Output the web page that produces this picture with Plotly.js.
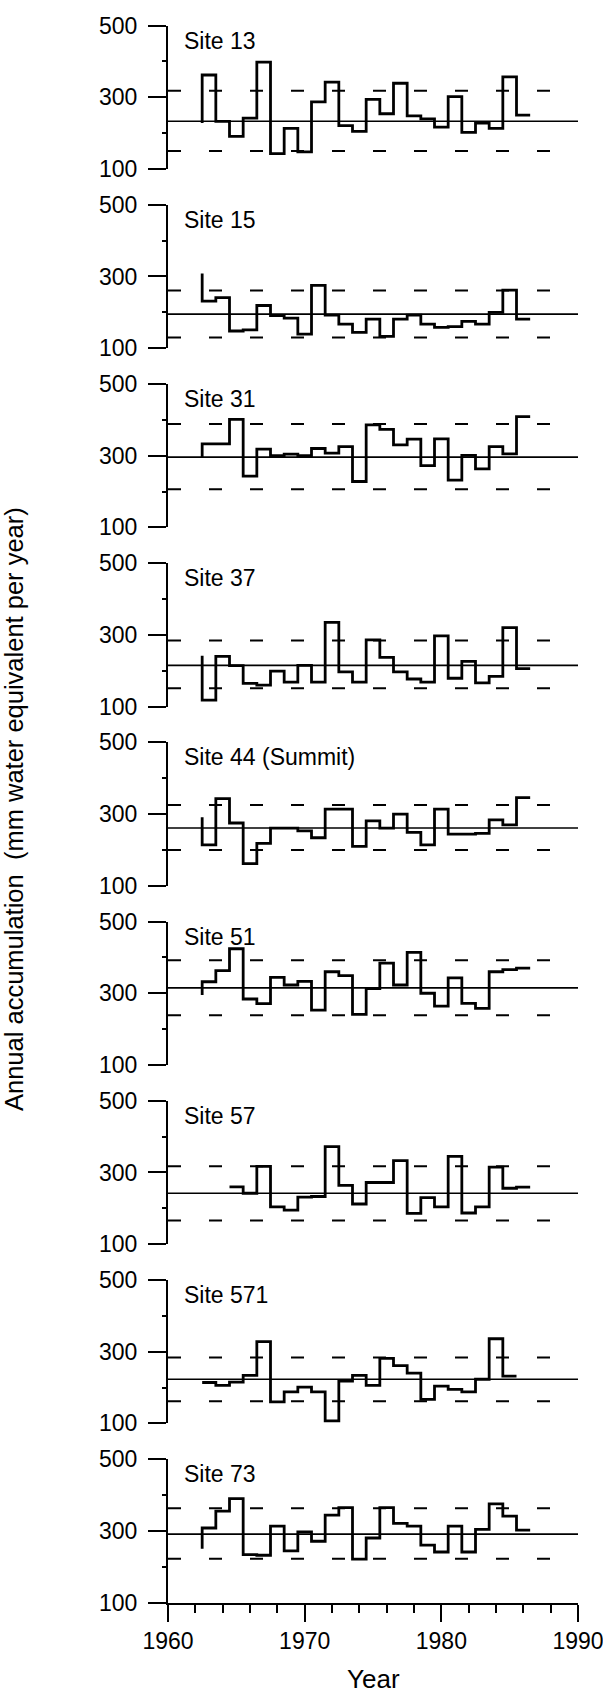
<!DOCTYPE html>
<html><head><meta charset="utf-8">
<script src="https://cdn.plot.ly/plotly-3.0.1.min.js"></script>
<style>html,body{margin:0;padding:0;background:#fff}</style>
</head><body><div id="chart" style="width:603px;height:1698px"></div>
<script>
// ---- data ----
const years = [1963,1964,1965,1966,1967,1968,1969,1970,1971,1972,1973,1974,1975,1976,1977,1978,1979,1980,1981,1982,1983,1984,1985,1986];
const siteNames = ["Site 13","Site 15","Site 31","Site 37","Site 44 (Summit)","Site 51","Site 57","Site 571","Site 73"];
const site13  = [362,233,191,242,398,143,213,148,287,342,221,205,294,254,339,248,240,217,302,202,228,213,357,250];
const site15  = [231,241,148,151,219,191,184,139,275,192,167,144,181,133,181,192,167,158,160,175,167,200,262,181];
const site31  = [333,333,401,243,318,300,304,300,320,307,325,228,386,373,330,346,272,347,232,301,263,325,305,409];
const site37  = [118,240,214,165,160,199,168,215,168,335,197,168,286,237,197,177,168,297,179,226,166,184,320,206];
const site44  = [214,343,275,162,218,261,261,253,234,314,314,210,281,261,300,249,214,314,244,244,246,284,270,346];
const site51  = [332,363,424,284,271,344,323,333,253,360,349,241,313,384,323,414,300,264,343,272,258,360,366,370];
const site57  = [null,null,260,242,317,204,195,231,233,372,264,212,272,272,333,186,230,204,345,187,204,315,256,259];
const site571 = [214,206,215,234,328,160,188,201,188,107,218,234,206,281,261,240,167,204,195,188,223,336,232,null];
const site73  = [308,355,390,234,232,313,244,297,271,344,365,221,280,365,321,313,260,241,313,241,304,375,341,302];
const startValues = [228,308,296,242,291,295,260,214,250];
const meanValues  = [233,195,296,215,261,315,242,223,291];
const upperValues = [318,261,388,284,325,392,317,284,363];
const lowerValues = [150,130,206,151,200,239,166,162,222];
const xTickValues = [1960,1970,1980,1990];
const yTickValues = [100,300,500];
const yTickText = ["100","300","500"];
const xRange = [1960,1990];
const yRange = [100,500];

const series = [site13,site15,site31,site37,site44,site51,site57,site571,site73];

// ---- layout geometry (pixels) ----
const W = 603, H = 1698, L = 168, R = 25;
const firstTop = 25.5, pitch = 179.2, panelH = 143.5;
const FONT = '"Liberation Sans", Arial, Helvetica, sans-serif';

function stepXY(vals, start) {
  const xs = [], ys = [];
  const first = vals.findIndex(v => v !== null);
  xs.push(years[first] - 0.5); ys.push(start);
  for (let i = first; i < vals.length; i++) {
    if (vals[i] === null) break;
    xs.push(years[i] + 0.5); ys.push(vals[i]);
  }
  return {xs, ys};
}

const traces = [];
const layout = {
  width: W, height: H,
  margin: {l: L, r: R, t: 0, b: 0, pad: 0},
  paper_bgcolor: '#fff', plot_bgcolor: 'rgba(0,0,0,0)',
  showlegend: false,
  font: {family: FONT, color: '#000', size: 23},
  annotations: []
};

series.forEach((vals, i) => {
  const k = i + 1;
  const xa = k === 1 ? 'x' : 'x' + k;
  const ya = k === 1 ? 'y' : 'y' + k;
  const isLast = i === series.length - 1;
  const top = firstTop + i * pitch;
  const dom = [1 - (top + panelH) / H, 1 - top / H];

  // mean line
  traces.push({type: 'scatter', mode: 'lines', x: xRange, y: [meanValues[i], meanValues[i]],
    xaxis: xa, yaxis: ya, line: {color: '#000', width: 1.6}, hoverinfo: 'skip'});
  // +/- lines dashed
  [upperValues[i], lowerValues[i]].forEach(v => {
    traces.push({type: 'scatter', mode: 'lines', x: xRange, y: [v, v],
      xaxis: xa, yaxis: ya, line: {color: '#000', width: 2, dash: '13px,28px'}, hoverinfo: 'skip'});
  });
  // step series
  const s = stepXY(vals, startValues[i]);
  traces.push({type: 'scatter', mode: 'lines', x: s.xs, y: s.ys, xaxis: xa, yaxis: ya,
    line: {color: '#000', width: 2.8, shape: 'vh'}, connectgaps: false});

  layout[k === 1 ? 'xaxis' : 'xaxis' + k] = {
    range: xRange, anchor: ya, domain: [0, 1], fixedrange: true,
    showgrid: false, zeroline: false,
    showline: isLast, linecolor: '#000', linewidth: 2,
    ticks: isLast ? 'outside' : '', ticklen: 17, tickwidth: 2, tickcolor: '#000',
    tickmode: 'array', tickvals: xTickValues, ticktext: xTickValues.map(String),
    showticklabels: isLast, tickfont: {size: 23, family: FONT},
    ticklabeloverflow: 'allow',
    minor: isLast ? {ticks: 'outside', tickmode: 'linear', tick0: 1960, dtick: 2, ticklen: 8, tickwidth: 2, tickcolor: '#000', showgrid: false} : undefined
  };
  layout[k === 1 ? 'yaxis' : 'yaxis' + k] = {
    range: yRange, anchor: xa, domain: dom, fixedrange: true,
    showgrid: false, zeroline: false,
    showline: true, linecolor: '#000', linewidth: 2,
    ticks: 'outside', ticklen: 18, tickwidth: 2, tickcolor: '#000',
    tickmode: 'array', tickvals: yTickValues, ticktext: yTickText,
    tickfont: {size: 23, family: FONT}, ticklabelstandoff: 6,
    ticklabeloverflow: 'allow',
    minor: {ticks: 'outside', tickmode: 'linear', tick0: 100, dtick: 100, ticklen: 4, tickwidth: 2, tickcolor: '#000', showgrid: false}
  };
  layout.annotations.push({
    text: siteNames[i], showarrow: false,
    xref: (k === 1 ? 'x' : 'x' + k) + ' domain', yref: (k === 1 ? 'y' : 'y' + k) + ' domain',
    x: 0.034, y: 0.895, xanchor: 'left', yanchor: 'middle',
    font: {size: 23, family: FONT, color: '#000'}
  });
});

// axis titles
layout.annotations.push({
  text: 'Annual accumulation  (mm water equivalent per year)', showarrow: false,
  xref: 'paper', yref: 'paper', x: (14 - L) / (W - L - R), y: 1 - 809 / H,
  xanchor: 'center', yanchor: 'middle', textangle: -90,
  font: {size: 25.5, family: FONT, color: '#000'}
});
layout.annotations.push({
  text: 'Year', showarrow: false,
  xref: 'paper', yref: 'paper', x: (373 - L) / (W - L - R), y: 1 - 1679 / H,
  xanchor: 'center', yanchor: 'middle',
  font: {size: 26, family: FONT, color: '#000'}
});

Plotly.newPlot('chart', traces, layout, {staticPlot: true, displayModeBar: false});
</script>
</body></html>
